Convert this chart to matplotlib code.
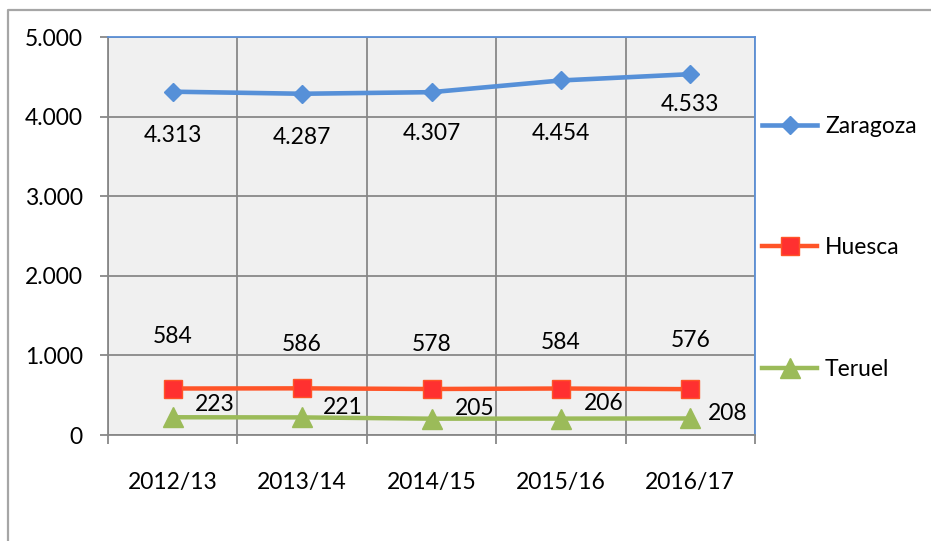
import matplotlib
matplotlib.use("Agg")
import matplotlib.pyplot as plt
from matplotlib.lines import Line2D

plt.rcParams['font.family'] = ['Lato', 'DejaVu Sans']

cursos = ['2012/13', '2013/14', '2014/15', '2015/16', '2016/17']
zaragoza = [4313, 4287, 4307, 4454, 4533]
huesca = [584, 586, 578, 584, 576]
teruel = [223, 221, 205, 206, 208]

# label offsets (points), placed by hand in the original chart
zar_off = [(0, -31.7), (0, -31.7), (0, -29.5), (0, -38.2), (0, -21.6)]
hue_off = [(0, 37.4), (0, 31.7), (0, 31.7), (0, 33.1), (0, 35.3)]
ter_off = [(15.8, 8.9), (15.1, 6.8), (16.6, 7.0), (16.6, 11.2), (13, 3.2)]


def fmt(v):
    return '{:,}'.format(int(v)).replace(',', '.')


fig = plt.figure(figsize=(9.31, 5.41), dpi=100)
ax = fig.add_axes([108 / 931, 106 / 541, 647 / 931, 398 / 541])
ax.set_facecolor('#f0f0f0')

x = list(range(1, len(cursos) + 1))
ax.plot(x, zaragoza, color='#5690d8', lw=3.3, marker='D', ms=9,
        mfc='#5690d8', mec='#5690d8', label='Zaragoza', zorder=3)
ax.plot(x, huesca, color='#ff5428', lw=3.2, marker='s', ms=13,
        mfc='#ff3030', mec='#ff5428', label='Huesca', zorder=3)
ax.plot(x, teruel, color='#9bbb59', lw=3.2, marker='^', ms=14,
        mfc='#9bbb59', mec='#9bbb59', label='Teruel', zorder=3)

fs = 16.5
for xi, v, off in zip(x, zaragoza, zar_off):
    ax.annotate(fmt(v), (xi, v), xytext=off, textcoords='offset points',
                ha='center', va='center', fontsize=fs)
for xi, v, off in zip(x, huesca, hue_off):
    ax.annotate(fmt(v), (xi, v), xytext=off, textcoords='offset points',
                ha='center', va='center', fontsize=fs)
for xi, v, off in zip(x, teruel, ter_off):
    ax.annotate(fmt(v), (xi, v), xytext=off, textcoords='offset points',
                ha='left', va='center', fontsize=fs)

ax.set_xlim(0.5, len(cursos) + 0.5)
ax.set_ylim(0, 5000)
ax.set_yticks(range(0, 5001, 1000))
ax.set_yticklabels([fmt(v) for v in range(0, 5001, 1000)], fontsize=fs)
ax.set_xticks(x)
ax.set_xticklabels(cursos, fontsize=fs)
ax.set_xticks([i + 0.5 for i in range(0, len(cursos) + 1)], minor=True)

ax.tick_params(axis='x', which='major', length=0, pad=27)
ax.tick_params(axis='x', which='minor', length=6.5, width=1.3, color='#888888')
ax.tick_params(axis='y', length=6, width=1.3, color='#888888', pad=12)

ax.grid(axis='y', which='major', color='#888888', lw=1.3)
ax.grid(axis='x', which='minor', color='#888888', lw=1.3)
ax.set_axisbelow(True)

ax.spines['left'].set_color('#888888')
ax.spines['bottom'].set_color('#888888')
ax.spines['top'].set_color('#5b8fd6')
ax.spines['right'].set_color('#5b8fd6')
for s in ax.spines.values():
    s.set_linewidth(1.3)

leg = ax.legend(loc='upper left', bbox_to_anchor=(762 / 931, 1 - 116 / 541),
                bbox_transform=fig.transFigure, frameon=False, fontsize=fs,
                handlelength=2.4, handletextpad=0.35, labelspacing=4.38,
                borderaxespad=0, borderpad=0)

# outer chart frame
fig.add_artist(Line2D([8 / 931, 8 / 931, 1], [0, 1 - 10 / 541, 1 - 10 / 541],
                      transform=fig.transFigure, color='#a6a6a6', lw=1.6))

fig.savefig('out.png', dpi=100)
